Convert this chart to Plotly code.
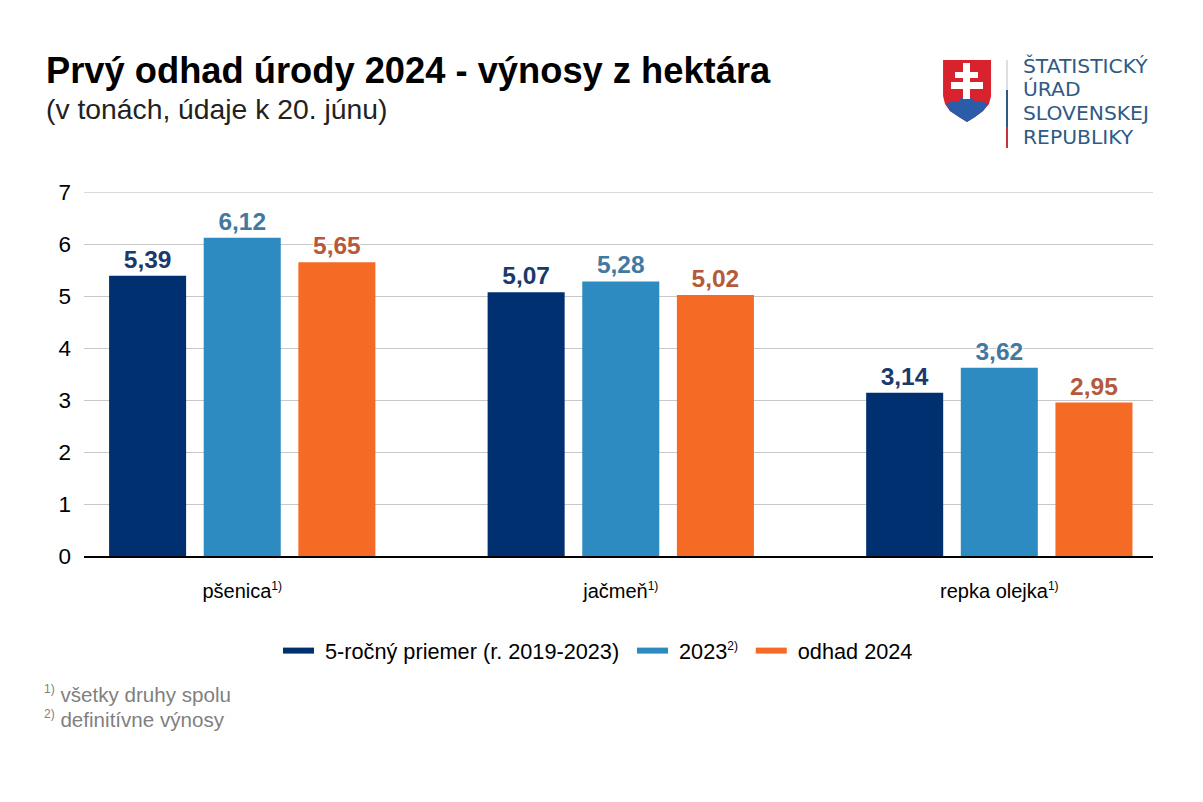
import plotly.graph_objs as go


def sup(text, size):
    return '<sup><span style="font-size:%dpx">%s</span></sup>' % (size, text)


categories = ['pšenica' + sup('1)', 12), 'jačmeň' + sup('1)', 12), 'repka olejka' + sup('1)', 12)]
priemer = [5.39, 5.07, 3.14]
rok2023 = [6.12, 5.28, 3.62]
odhad2024 = [5.65, 5.02, 2.95]
series_names = ['5-ročný priemer (r. 2019-2023)', '2023' + sup('2)', 12), 'odhad 2024']
series_values = [priemer, rok2023, odhad2024]
y_ticks = [0, 1, 2, 3, 4, 5, 6, 7]
logo_lines = ['ŠTATISTICKÝ', 'ÚRAD', 'SLOVENSKEJ', 'REPUBLIKY']

#the page has a body margin of 8px, so the figure is that much smaller than the window
PAGE_W, PAGE_H = 1203, 802
BODY = 8
W, H = PAGE_W - 2 * BODY, PAGE_H - 2 * BODY
#plot area in page pixels
L, R, T, B = 84, 1153, 192, 556
FONT = 'Liberation Sans, Arial, sans-serif'
bar_colors = ['#003070', '#2d8bc2', '#f56b25']
label_colors = ['#1b3a6b', '#41799f', '#b5593a']
HALO = 'white 0 0 3px, white 0 0 3px, white 0 0 3px'


#pixel position of the page to paper coordinates
def px(x):
    return (x - L) / (R - L)


def py(y):
    return (B - y) / (B - T)


def path(points):
    return 'M ' + ' L '.join('%.4f,%.4f' % (px(x), py(y)) for x, y in points) + ' Z'


fig = go.Figure()

#bars
for i, name in enumerate(series_names):
    fig.add_trace(go.Bar(
        x=categories,
        y=series_values[i],
        name=name,
        marker=dict(color=bar_colors[i], line=dict(width=0)),
        texttemplate='%{y:.2f}',
        textposition='outside',
        textfont=dict(family=FONT, size=24.5, color=label_colors[i], weight='bold', shadow=HALO),
        cliponaxis=False,
        showlegend=False,
        hoverinfo='skip',
    ))

#legend uses line swatches, bars have no such thing. nbsp gives the wider gaps
for i, name in enumerate(series_names):
    fig.add_trace(go.Scatter(
        x=[None],
        y=[None],
        mode='lines',
        name='\u00a0' + name + '\u00a0\u200a',
        line=dict(color=bar_colors[i], width=6),
    ))

shapes = []
#top gridline, plotly drops the one on the axis end
shapes.append(dict(type='line', xref='paper', yref='y', x0=0, x1=1, y0=y_ticks[-1], y1=y_ticks[-1],
                   line=dict(color='#b4b4b4', width=1), layer='below'))
#shield
shield = [(943, 60), (991, 60), (991, 96), (989, 104), (983, 111), (975, 117), (967, 122),
          (959, 117), (950, 111), (945, 104), (943, 96)]
shapes.append(dict(type='path', xref='paper', yref='paper', path=path(shield),
                   fillcolor='#d8232f', line=dict(width=0)))
hills = [(946, 104), (952, 101), (958, 102), (961, 98), (972, 98), (975, 102), (981, 101), (988, 104),
         (983, 111), (975, 117), (967, 122), (959, 117), (950, 111)]
shapes.append(dict(type='path', xref='paper', yref='paper', path=path(hills),
                   fillcolor='#2b5ca8', line=dict(width=0)))
for x0, y0, x1, y1 in [(963, 63, 970, 99), (955, 72, 978, 78), (951, 82, 983, 89)]:
    shapes.append(dict(type='rect', xref='paper', yref='paper', x0=px(x0), x1=px(x1), y0=py(y0), y1=py(y1),
                       fillcolor='white', line=dict(width=0)))
#separator next to the logo
for y0, y1, col in [(60, 90, '#dcdfe4'), (90, 127, '#2f5a85'), (127, 148, '#c8323c')]:
    shapes.append(dict(type='line', xref='paper', yref='paper', x0=px(1007), x1=px(1007), y0=py(y0), y1=py(y1),
                       line=dict(color=col, width=2)))

annotations = []


def add_text(text, x, y, size, color='#000000', weight='normal', family=FONT):
    annotations.append(dict(
        text=text, xref='paper', yref='paper', x=px(x), y=py(y), xanchor='left', yanchor='middle',
        showarrow=False, align='left', borderpad=0,
        font=dict(family=family, size=size, color=color, weight=weight),
    ))


add_text('Prvý odhad úrody 2024 - výnosy z hektára', 45, 70, 36.3, weight='bold')
add_text('(v tonách, údaje k 20. júnu)', 45, 109, 28.3, color='#222222')
add_text(sup('1)', 12) + ' všetky druhy spolu', 43, 694, 20.6, color='#7f7f7f')
add_text(sup('2)', 12) + ' definitívne výnosy', 43, 719, 20.6, color='#7f7f7f')
for line, y in zip(logo_lines, [66, 89.5, 113, 136.5]):
    add_text(line, 1022, y, 20.3, color='#2f5a85', family='DejaVu Sans, sans-serif')

layout_style = go.Layout(
    width=W,
    height=H,
    autosize=False,
    margin=dict(l=L - BODY, r=W - (R - BODY), t=T - BODY, b=H - (B - BODY), pad=0),
    paper_bgcolor='white',
    plot_bgcolor='white',
    separators=', ',
    barmode='group',
    bargap=0.25,
    bargroupgap=0.186,
    font=dict(family=FONT, size=20, color='#000000'),
    xaxis=dict(
        type='category',
        range=[-0.418, 2.406],
        showgrid=False,
        showline=True,
        linecolor='#000000',
        linewidth=2,
        ticks='',
        ticklabelstandoff=16,
        tickfont=dict(size=20),
    ),
    yaxis=dict(
        range=[0, 7],
        tickmode='array',
        tickvals=y_ticks,
        ticktext=[str(t) for t in y_ticks],
        gridcolor='#c8c8c8',
        gridwidth=1,
        zeroline=False,
        showline=False,
        ticks='',
        ticklabelstandoff=12,
        tickfont=dict(size=22.5),
    ),
    legend=dict(
        orientation='h',
        x=px(278),
        y=py(651),
        xanchor='left',
        yanchor='middle',
        font=dict(size=21.7),
        bgcolor='rgba(0,0,0,0)',
        itemwidth=31,
    ),
    shapes=shapes,
    annotations=annotations,
)
fig.update_layout(layout_style)

fig.write_html("out.html")
